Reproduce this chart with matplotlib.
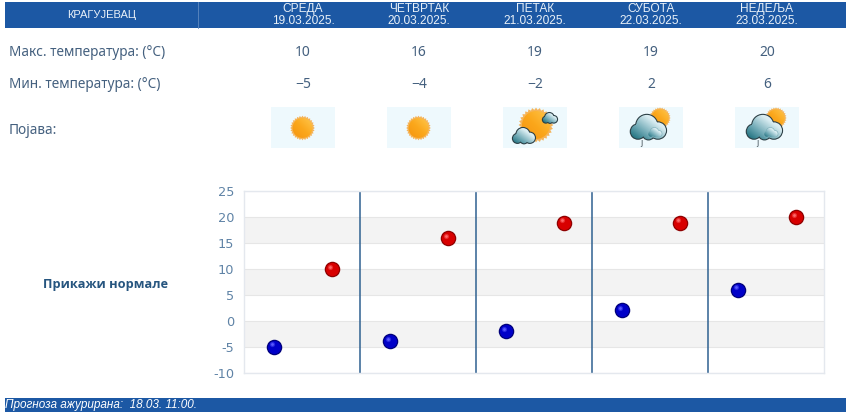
import numpy as np
import matplotlib
matplotlib.use('Agg')
import matplotlib.pyplot as plt
from matplotlib.colors import LinearSegmentedColormap
from matplotlib.patches import Circle, PathPatch, Rectangle
from matplotlib.path import Path

city = 'КРАГУЈЕВАЦ'
days = ['СРЕДА', 'ЧЕТВРТАК', 'ПЕТАК', 'СУБОТА', 'НЕДЕЉА']
dates = ['19.03.2025.', '20.03.2025.', '21.03.2025.', '22.03.2025.', '23.03.2025.']
max_temp = [10, 16, 19, 19, 20]
min_temp = [-5, -4, -2, 2, 6]
icons = ['sun', 'sun', 'partly', 'rain', 'rain']
y_ticks = [-10, -5, 0, 5, 10, 15, 20, 25]

W, H = 850, 413
BLUE = '#1c58a4'
TXT = '#44607f'
col_x = [303, 419, 535, 651, 767]

plt.rcParams['axes.unicode_minus'] = False

fig = plt.figure(figsize=(W / 100, H / 100), dpi=100)

# page layer in pixel coordinates (header, table, footer, icons)
bg = fig.add_axes([0, 0, 1, 1])
bg.set_xlim(0, W)
bg.set_ylim(H, 0)
bg.axis('off')

sun_cmap = LinearSegmentedColormap.from_list('sun', ['#ffc94f', '#fba71b', '#f4920f'])
cloud_cmap = LinearSegmentedColormap.from_list('cloud', ['#ffffff', '#d8ecf1', '#6fa9b5', '#0d6472'])


def grad_fill(patch, cmap, box, zorder):
    # diagonal gradient clipped to a patch
    x0, x1, y0, y1 = box
    yy, xx = np.mgrid[0:1:40j, 0:1:40j]
    g = bg.imshow((1 - xx) * 0.5 + yy * 0.5, cmap=cmap, extent=(x0, x1, y1, y0),
                  aspect='auto', zorder=zorder, vmin=0, vmax=1)
    patch.set_transform(bg.transData)
    g.set_clip_path(patch)


def draw_sun(cx, cy, r, zorder=3):
    n = 28
    ang = np.linspace(0, 2 * np.pi, n * 2, endpoint=False)
    rad = np.where(np.arange(n * 2) % 2 == 0, r * 1.12, r * 0.98)
    bg.fill(cx + rad * np.cos(ang), cy + rad * np.sin(ang), color='#f5b45a', lw=0, zorder=zorder)
    grad_fill(Circle((cx, cy), r * 0.9), sun_cmap, (cx - r, cx + r, cy - r, cy + r), zorder + 0.1)


def draw_cloud(cx, cy, s, zorder=4, line='#2c3f45', pad=1.1):
    parts = [(-0.62, 0.18, 0.42), (-0.1, -0.18, 0.62), (0.55, 0.12, 0.48), (0, 0.3, 0.34)]
    circles = []
    for dx, dy, r in parts:
        bg.add_patch(Circle((cx + dx * s, cy + dy * s), r * s + pad, color=line, lw=0, zorder=zorder))
        circles.append(Path.circle((cx + dx * s, cy + dy * s), r * s))
    clip = PathPatch(Path.make_compound_path(*circles))
    grad_fill(clip, cloud_cmap, (cx - 1.1 * s, cx + 1.1 * s, cy - 0.85 * s, cy + 0.7 * s), zorder + 0.1)


def draw_icon(kind, cx):
    bg.add_patch(Rectangle((cx - 32, 107), 64, 41, color='#eef9fd', lw=0, zorder=1))
    if kind == 'sun':
        draw_sun(cx - 0.5, 128, 11)
    elif kind == 'partly':
        draw_sun(cx + 1, 125, 15.5)
        draw_cloud(cx + 15, 118.5, 6.8)
        draw_cloud(cx - 11, 136.5, 10.6)
    else:
        draw_sun(cx + 9, 118, 9.5)
        draw_cloud(cx - 2.5, 128.5, 17)
        draw_cloud(cx + 4, 133, 6.5, zorder=5, line='#7fb0ba', pad=0.6)
        bg.text(cx - 10, 142.5, 'ȷ', fontsize=6, color='#46525a', ha='center', va='center', zorder=6)


# header and footer bars
bg.add_patch(Rectangle((5, 2), 841, 26, color=BLUE, lw=0))
bg.add_patch(Rectangle((5, 398), 841, 13.5, color=BLUE, lw=0))
bg.plot([198, 198], [2, 28], color='#5f8ac0', lw=0.6)
bg.text(102, 15.5, city, color='#e8f0f8', fontsize=8, family='Liberation Sans', ha='center', va='center')
for x, d, dt in zip(col_x, days, dates):
    bg.text(x, 9, d, color='#e8f0f8', fontsize=8.6, family='Liberation Sans', ha='center', va='center')
    bg.text(x, 21.5, dt, color='#e8f0f8', fontsize=8.6, family='Liberation Sans', ha='center', va='center')
bg.text(5, 405, 'Прогноза ажурирана:  18.03. 11:00.', color='white', fontsize=8.45,
        family='Liberation Sans', style='italic', ha='left', va='center')

# table rows
for y, label in zip([52.5, 84.5, 131], ['Макс. температура: (°C)', 'Мин. температура: (°C)', 'Појава:']):
    bg.text(9, y, label, color=TXT, fontsize=9.8, family='Noto Sans', ha='left', va='center')
for x, hi, lo, icon in zip(col_x, max_temp, min_temp, icons):
    bg.text(x, 52.5, str(hi), color=TXT, fontsize=10, family='Noto Sans', ha='center', va='center')
    bg.text(x, 84.5, str(lo).replace('-', '−'), color=TXT, fontsize=10, family='Noto Sans', ha='center', va='center')
    draw_icon(icon, x)
bg.text(105.5, 284.5, 'Прикажи нормале', color='#26557f', fontsize=9.2, family='Open Sans',
        weight='bold', ha='center', va='center')
bg.set_xlim(0, W)
bg.set_ylim(H, 0)

# temperature chart
ax = fig.add_axes([244 / W, 1 - 372.5 / H, 580 / W, 181 / H])
ax.patch.set_alpha(0)
ax.set_xlim(0, 5)
ax.set_ylim(-10, 25)
for lo in [15, 5, -5]:
    ax.axhspan(lo, lo + 5, color='#f3f3f3', lw=0, zorder=0)
ax.set_yticks(y_ticks)
ax.set_xticks([])
ax.grid(axis='y', color='#e6e6e6', lw=0.8, zorder=1)
for s in ax.spines.values():
    s.set_color('#e4e8ee')
    s.set_linewidth(1)
ax.tick_params(axis='y', length=0, labelsize=9.3, labelcolor='#5f83a6', pad=7)
for i in range(1, 5):
    ax.axvline(i, color='#2f6191', lw=1.1, zorder=2)


def draw_balls(x, y, edge, body, shine):
    ax.scatter(x, y, s=125, color=edge, lw=0, zorder=5, clip_on=False)
    ax.scatter(x, y, s=88, color=body, lw=0, zorder=6, clip_on=False)
    bx, by = ax.transData.transform(np.column_stack([x, y])).T
    pts = ax.transData.inverted().transform(np.column_stack([bx - 1.5, by + 2.5]))
    for size, alpha in [(14, 0.45), (4, 1)]:
        ax.scatter(pts[:, 0], pts[:, 1], s=size, color=shine, alpha=alpha, lw=0, zorder=7)


pos = np.arange(len(days))
draw_balls(pos + 0.255, min_temp, '#00007a', '#0000c8', '#5a5aff')
draw_balls(pos + 0.755, max_temp, '#8e0000', '#d80000', '#ff6a6a')

fig.savefig('out.png', dpi=100)
